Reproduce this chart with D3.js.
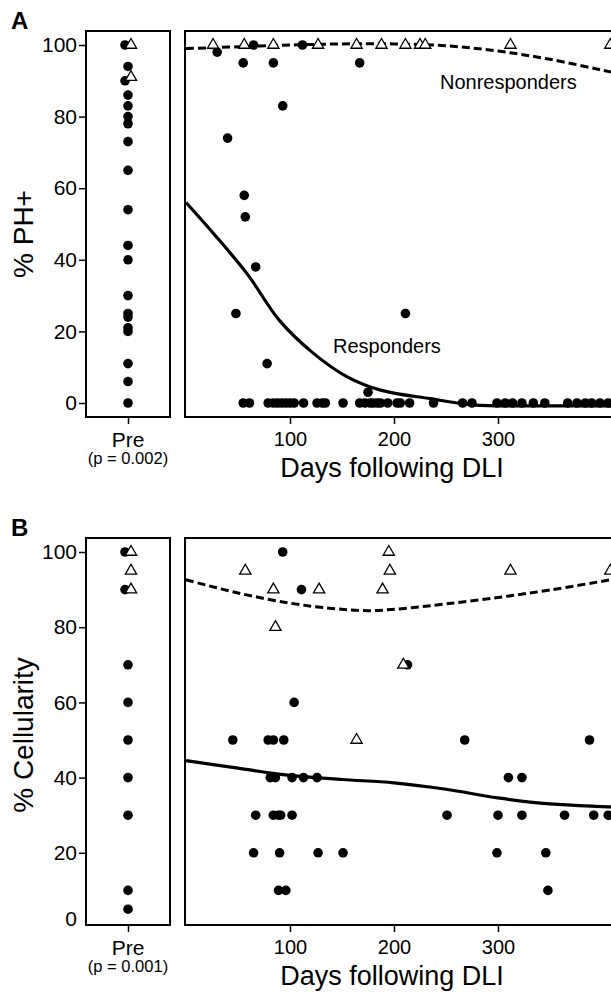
<!DOCTYPE html>
<html lang="en">
<head>
<meta charset="UTF-8">
<title>PH+ and cellularity after DLI</title>
<script src="https://cdn.jsdelivr.net/npm/d3@7"></script>
<style>
    body { margin: 0; background: #fff; }
    svg { display: block; font-family: "Liberation Sans", Arial, sans-serif; }
</style>
</head>
<body>
<div id="chart"></div>
<script>
    // ---- data ----
    const xTicks = [100, 200, 300];
    const yTicks = [0, 20, 40, 60, 80, 100];

    // Panel A: % PH+
    const preDotsA = [100, 94, 90, 86, 83, 80, 78, 73, 65, 54, 44, 40, 30, 25, 24, 21, 20, 11, 6, 0];
    const preTriA = [100, 91];
    const respDaysA = [30, 65, 112, 55, 84, 167, 93, 40, 56, 57, 67, 48, 78, 175, 211,
        55, 61, 79, 84, 88, 92, 96, 100, 104, 113, 126, 131, 134, 151, 167, 172, 177, 180, 184, 187,
        194, 203, 206, 215, 238, 266, 275, 299, 307, 314, 323, 334, 345, 367, 376, 384, 390, 398, 406];
    const respValsA = [98, 100, 100, 95, 95, 95, 83, 74, 58, 52, 38, 25, 11, 3, 25,
        0, 0, 0, 0, 0, 0, 0, 0, 0, 0, 0, 0, 0, 0, 0, 0, 0, 0, 0, 0,
        0, 0, 0, 0, 0, 0, 0, 0, 0, 0, 0, 0, 0, 0, 0, 0, 0, 0, 0];
    const nonDaysA = [26, 56, 84, 127, 164, 188, 211, 225, 230, 312, 408];
    const nonValsA = [100, 100, 100, 100, 100, 100, 100, 100, 100, 100, 100];
    const respCurveDaysA = [0, 26, 59, 90, 122, 155, 187, 235, 276, 340, 420];
    const respCurveValsA = [56, 47.5, 36, 23, 14, 7.3, 3.6, 1.2, -0.5, -0.8, -0.8];
    const nonCurveDaysA = [0, 50, 100, 150, 200, 250, 300, 350, 408, 420];
    const nonCurveValsA = [99, 99.5, 100, 100.3, 100.3, 99.8, 98.3, 96, 92.5, 91.8];

    // Panel B: % Cellularity
    const preDotsB = [100, 90, 70, 60, 50, 40, 30, 10, 5];
    const preTriB = [100, 95, 90];
    const respDaysB = [93, 111, 104, 213,
        45, 79, 84, 94, 268, 388,
        81, 86, 102, 113, 126, 310, 323,
        67, 84, 89, 91, 102, 251, 300, 323, 364, 392, 406,
        65, 90, 127, 151, 299, 346,
        89, 96, 348];
    const respValsB = [100, 90, 60, 70,
        50, 50, 50, 50, 50, 50,
        40, 40, 40, 40, 40, 40, 40,
        30, 30, 30, 30, 30, 30, 30, 30, 30, 30, 30,
        20, 20, 20, 20, 20, 20,
        10, 10, 10];
    const nonDaysB = [57, 84, 128, 86, 195, 196, 189, 164, 209, 312, 408];
    const nonValsB = [95, 90, 90, 80, 100, 95, 90, 50, 70, 95, 95];
    const respCurveDaysB = [0, 50, 100, 150, 200, 250, 300, 350, 400, 420];
    const respCurveValsB = [44.5, 42.5, 40.6, 39.5, 38.6, 36.9, 34.6, 33, 32.3, 32.1];
    const nonCurveDaysB = [0, 50, 100, 140, 175, 210, 250, 300, 350, 408, 420];
    const nonCurveValsB = [92.6, 89.1, 86.4, 85, 84.4, 85, 86.2, 87.9, 89.9, 92.6, 93.2];

    const zip = (a, b) => a.map((d, i) => [d, b[i]]);

    const panels = [
        {
            letter: "A", ylabel: "% PH+", pval: "(p = 0.002)",
            top: 31, bottom: 417, y0: 403, y100: 45, labelY: 234,
            preDots: preDotsA, preTri: preTriA,
            resp: zip(respDaysA, respValsA), non: zip(nonDaysA, nonValsA),
            respCurve: zip(respCurveDaysA, respCurveValsA), nonCurve: zip(nonCurveDaysA, nonCurveValsA),
            notes: [{ t: "Nonresponders", x: 440, y: 89 }, { t: "Responders", x: 333, y: 353 }]
        },
        {
            letter: "B", ylabel: "% Cellularity", pval: "(p = 0.001)",
            top: 538, bottom: 925, y0: 928, y100: 552, labelY: 735, hideZero: true,
            preDots: preDotsB, preTri: preTriB,
            resp: zip(respDaysB, respValsB), non: zip(nonDaysB, nonValsB),
            respCurve: zip(respCurveDaysB, respCurveValsB), nonCurve: zip(nonCurveDaysB, nonCurveValsB),
            notes: []
        }
    ];

    const width = 611, height = 996;
    const preLeft = 86, preRight = 170, mainLeft = 185, mainRight = 626;

    const svg = d3.select("#chart").append("svg")
        .attr("width", width)
        .attr("height", height);

    const x = d3.scaleLinear().domain([0, 400]).range([186, 602]);
    const xPre = d3.scalePoint().domain(["Pre"]).range([preLeft, preRight]).padding(0.5);
    const tri = d3.symbol(d3.symbolTriangle, 55);

    panels.forEach((p, k) => {
        const y = d3.scaleLinear().domain([0, 100]).range([p.y0, p.y100]);
        const g = svg.append("g");

        // panel letter
        g.append("text")
            .attr("x", 11).attr("y", p.top - 2)
            .attr("font-size", 24).attr("font-weight", "bold")
            .text(p.letter);

        // y axis
        const ya = g.append("g")
            .attr("transform", `translate(${preLeft},0)`)
            .call(d3.axisLeft(y).tickValues(yTicks).tickSize(7).tickPadding(2));
        ya.select(".domain").remove();
        ya.selectAll("line").attr("stroke-width", 1.5);
        ya.selectAll("text").attr("font-size", 21).attr("font-family", null);
        if (p.hideZero) {
            ya.selectAll(".tick").filter(d => d === 0)
                .call(t => t.select("line").remove())
                .select("text").attr("dy", "-0.1em");
        }

        g.append("text")
            .attr("transform", `translate(33,${p.labelY}) rotate(-90)`)
            .attr("text-anchor", "middle")
            .attr("font-size", 28)
            .text(p.ylabel);

        // pre column
        const cx = xPre("Pre");
        const pa = g.append("g")
            .attr("transform", `translate(0,${p.bottom})`)
            .call(d3.axisBottom(xPre).tickSize(7).tickFormat(""));
        pa.select(".domain").remove();
        pa.selectAll("line").attr("stroke-width", 1.5);

        g.append("text").attr("x", cx).attr("y", p.bottom + 30)
            .attr("text-anchor", "middle").attr("font-size", 21).text("Pre");
        g.append("text").attr("x", cx).attr("y", p.bottom + 47)
            .attr("text-anchor", "middle").attr("font-size", 16.5).text(p.pval);

        g.append("g").selectAll("circle")
            .data(p.preDots)
            .join("circle")
            .attr("cx", d => p.preTri.some(t => Math.abs(t - d) < 2) ? cx - 3 : cx)
            .attr("cy", d => y(d))
            .attr("r", 4.8);

        g.append("g").selectAll("path")
            .data(p.preTri)
            .join("path")
            .attr("transform", d => `translate(${cx + 3},${y(d)})`)
            .attr("d", tri)
            .attr("fill", "#fff").attr("stroke", "#000").attr("stroke-width", 1.3);

        g.append("rect")
            .attr("x", preLeft).attr("y", p.top)
            .attr("width", preRight - preLeft).attr("height", p.bottom - p.top)
            .attr("fill", "none").attr("stroke", "#000").attr("stroke-width", 2);

        // main panel
        const clipId = "clip" + k;
        g.append("clipPath").attr("id", clipId)
            .append("rect")
            .attr("x", mainLeft).attr("y", p.top)
            .attr("width", mainRight - mainLeft).attr("height", p.bottom - p.top);

        const xa = g.append("g")
            .attr("transform", `translate(0,${p.bottom})`)
            .call(d3.axisBottom(x).tickValues(xTicks).tickSize(7).tickPadding(8));
        xa.select(".domain").remove();
        xa.selectAll("line").attr("stroke-width", 1.5);
        xa.selectAll("text").attr("font-size", 20).attr("font-family", null);

        g.append("text")
            .attr("x", 392).attr("y", p.bottom + 60)
            .attr("text-anchor", "middle").attr("font-size", 27)
            .text("Days following DLI");

        const plot = g.append("g").attr("clip-path", `url(#${clipId})`);
        const line = d3.line()
            .x(d => x(d[0])).y(d => y(d[1]))
            .curve(d3.curveCatmullRom);

        plot.append("path")
            .datum(p.nonCurve)
            .attr("d", line)
            .attr("fill", "none").attr("stroke", "#000")
            .attr("stroke-width", 3).attr("stroke-dasharray", "8,4");

        plot.append("path")
            .datum(p.respCurve)
            .attr("d", line)
            .attr("fill", "none").attr("stroke", "#000")
            .attr("stroke-width", 3.2);

        plot.append("g").selectAll("circle")
            .data(p.resp)
            .join("circle")
            .attr("cx", d => x(d[0]))
            .attr("cy", d => y(d[1]))
            .attr("r", 4.8);

        plot.append("g").selectAll("path")
            .data(p.non)
            .join("path")
            .attr("transform", d => `translate(${x(d[0])},${y(d[1])})`)
            .attr("d", tri)
            .attr("fill", "#fff").attr("stroke", "#000").attr("stroke-width", 1.3);

        g.append("rect")
            .attr("x", mainLeft).attr("y", p.top)
            .attr("width", mainRight - mainLeft).attr("height", p.bottom - p.top)
            .attr("fill", "none").attr("stroke", "#000").attr("stroke-width", 2);

        g.selectAll(null)
            .data(p.notes)
            .join("text")
            .attr("x", d => d.x).attr("y", d => d.y)
            .attr("font-size", 20)
            .text(d => d.t);
    });
</script>
</body>
</html>
